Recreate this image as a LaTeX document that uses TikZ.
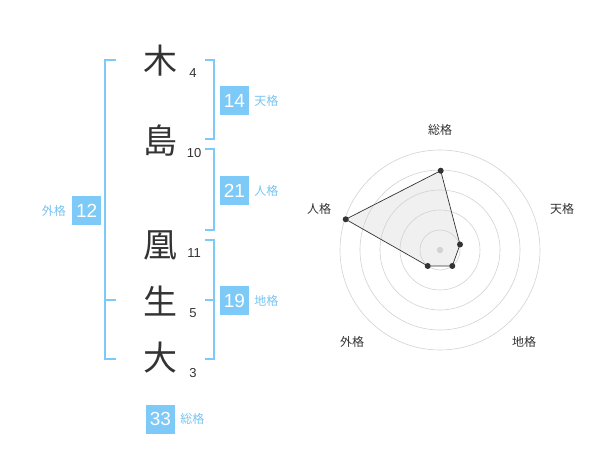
\documentclass[tikz,border=0pt]{standalone}
\usepackage{fontspec}
\setmainfont{Liberation Sans}
\newfontfamily\jp{Noto Sans CJK JP}
\definecolor{bl}{RGB}{125,202,248}
\definecolor{bltext}{RGB}{120,195,240}
\definecolor{ink}{RGB}{51,51,51}
\definecolor{ringc}{RGB}{210,210,210}
\definecolor{areac}{RGB}{240,240,240}
\begin{document}
\begin{tikzpicture}[x=1pt,y=-1pt,
  kanji/.style={font=\jp\fontsize{34}{34}\selectfont, text=ink, inner sep=0pt},
  strokes/.style={font=\fontsize{13}{13}\selectfont, text=ink, inner sep=0pt},
  brk/.style={draw=bl, line width=1.8pt},
  numbox/.style={fill=bl, text=white, minimum width=29pt, minimum height=29pt, inner sep=0pt, font=\fontsize{19}{19}\selectfont},
  lbl/.style={text=bltext, inner sep=0pt, font=\jp\fontsize{12}{12}\selectfont},
  radlbl/.style={text=ink, inner sep=0pt, font=\jp\fontsize{12}{12}\selectfont},
  ring/.style={draw=ringc, line width=0.6pt},
  pt/.style={circle, fill=ink, inner sep=0pt, minimum size=6pt}]
\useasboundingbox (0,0) rectangle (600,470);
% kanji
\node[kanji] (k1) at (160,61) {木};
\node[kanji] (k2) at (160,141) {島};
\node[kanji] (k3) at (160,245) {凰};
\node[kanji] (k4) at (160,301) {生};
\node[kanji] (k5) at (160,358) {大};
\node[strokes] (s1) at (193,73) {4};
\node[strokes] (s2) at (194,153) {10};
\node[strokes] (s3) at (194,253) {11};
\node[strokes] (s4) at (193,313) {5};
\node[strokes] (s5) at (193,373) {3};
% brackets
\draw[brk] (116,60) -- (105,60) -- (105,359) -- (116,359);
\draw[brk] (105,300) -- (116,300);
\draw[brk] (205,60) -- (214,60) -- (214,139) -- (205,139);
\draw[brk] (205,149) -- (214,149) -- (214,230) -- (205,230);
\draw[brk] (205,240) -- (214,240) -- (214,359) -- (205,359);
\draw[brk] (205,300) -- (214,300);
% boxes
\node[numbox] (b1) at (234.5,100.5) {14};
\node[lbl, anchor=west] (l1) at ([xshift=5pt]b1.east) {天格};
\node[numbox] (b2) at (234.5,190.5) {21};
\node[lbl, anchor=west] (l2) at ([xshift=5pt]b2.east) {人格};
\node[numbox] (b3) at (234.5,300.5) {19};
\node[lbl, anchor=west] (l3) at ([xshift=5pt]b3.east) {地格};
\node[numbox] (b4) at (86.7,210.5) {12};
\node[lbl, anchor=east] (l4) at ([xshift=-6pt]b4.west) {外格};
\node[numbox] (b5) at (160.5,419) {33};
\node[lbl, anchor=west] (l5) at ([xshift=5pt]b5.east) {総格};
% radar
\coordinate (c) at (440,250);
\coordinate (p1) at (440.7,170.7);
\coordinate (p2) at (460,244.5);
\coordinate (p3) at (452.3,266);
\coordinate (p4) at (427.7,266);
\coordinate (p5) at (345.7,219.3);
\fill[areac] (p1) -- (p2) -- (p3) -- (p4) -- (p5) -- cycle;
\foreach \r in {20,40,60,80,100} \draw[ring] (c) circle (\r);
\fill[ringc] (c) circle (3.2);
\draw[ink, line width=0.7pt] (p1) -- (p2) -- (p3) -- (p4) -- (p5) -- cycle;
\foreach \p in {p1,p2,p3,p4,p5} \node[pt] at (\p) {};
\node[radlbl] (r1) at (440,130) {総格};
\node[radlbl] (r2) at (562,208.5) {天格};
\node[radlbl] (r3) at (524,342) {地格};
\node[radlbl] (r4) at (352,342) {外格};
\node[radlbl] (r5) at (319,208.5) {人格};
\end{tikzpicture}
\end{document}
